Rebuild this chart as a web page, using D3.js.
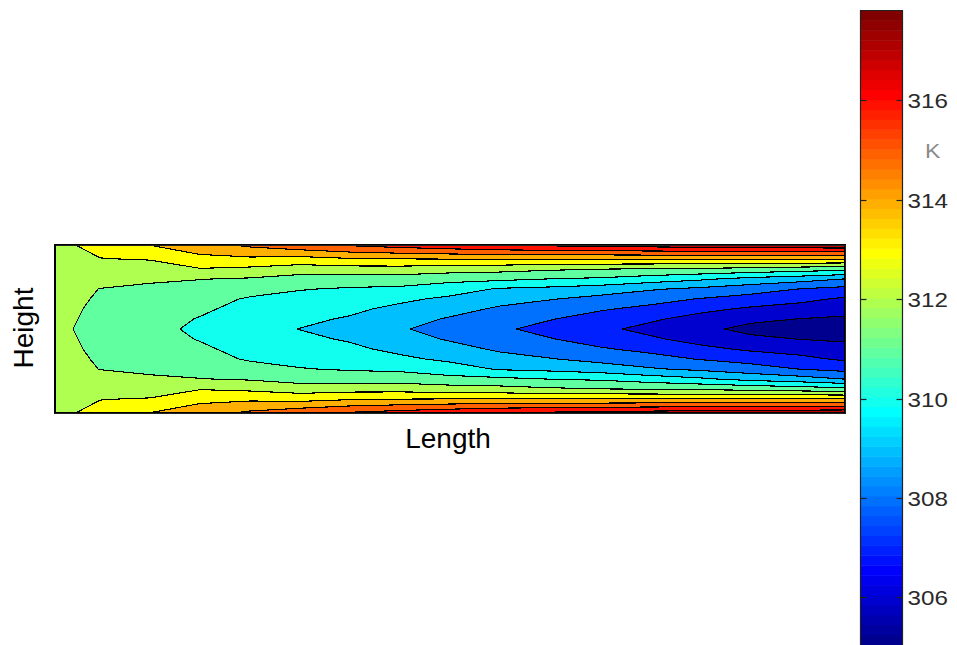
<!DOCTYPE html>
<html><head><meta charset="utf-8">
<script src="https://cdn.jsdelivr.net/npm/d3@7"></script>
<style>body{margin:0;background:#fff;overflow:hidden}svg{display:block}</style>
</head><body>
<svg id="chart" width="957" height="645"></svg>
<script>
// ---- data ----
// positions along the length (grid columns)
const lengthPos = [0, 20, 45, 95, 145, 195, 245, 295, 345, 395, 445, 495, 545, 595, 645, 695, 745, 790];
// height offsets from the centreline for the upper half (wall -> centre); lower half is the mirror image
const heightPos = [84, 70, 60, 50, 40, 30, 20, 10, 0];
// temperature [K] on each grid row (upper half, wall -> centre)
const T_h84 = [312.6, 312.99, 313.35, 314.02, 314.62, 315.2, 315.7, 316.12, 316.44, 316.75, 317.05, 317.2, 317.35, 317.47, 317.57, 317.66, 317.74, 317.81];
const T_h70 = [312.5, 312.7, 312.97, 313.05, 313.7, 313.8, 313.65, 313.9, 313.98, 314.02, 314.03, 314.02, 314.03, 314.04, 314.05, 314.1, 314.1, 314.1];
const T_h60 = [312.4, 312.5, 312.7, 312.6, 312.95, 312.8, 312.5, 312.6, 312.6, 312.45, 312.35, 312.15, 312.02, 311.95, 311.85, 311.7, 311.5, 311.3];
const T_h50 = [312.3, 312.35, 312.3, 312.15, 312.03, 311.9, 311.6, 311.55, 311.55, 311.3, 311.2, 310.98, 310.85, 310.5, 310.15, 309.7, 309.4, 308.98];
const T_h40 = [312.25, 312.25, 311.98, 311.8, 311.6, 311.35, 311.05, 310.9, 310.8, 310.45, 309.9, 309.75, 309.5, 309.1, 308.8, 308.45, 307.98, 307.7];
const T_h30 = [312.2, 312.15, 311.9, 311.6, 311.35, 310.9, 310.7, 310.5, 310.2, 309.8, 309.35, 309.05, 308.7, 308.35, 307.95, 307.6, 307.25, 306.85];
const T_h20 = [312.2, 312.08, 311.83, 311.45, 311.15, 310.7, 310.45, 310.2, 309.75, 309.35, 308.85, 308.5, 308.1, 307.75, 307.25, 306.85, 306.6, 306.35];
const T_h10 = [312.17, 312.03, 311.78, 311.35, 310.95, 310.52, 310.2, 309.9, 309.4, 308.9, 308.45, 308.05, 307.6, 307.15, 306.65, 306.2, 305.98, 305.85];
const T_h0  = [312.17, 311.98, 311.74, 311.27, 310.82, 310.40, 309.98, 309.54, 309.09, 308.63, 308.16, 307.67, 307.21, 306.73, 306.24, 305.75, 305.35, 305.05];
const upperRows = [T_h84, T_h70, T_h60, T_h50, T_h40, T_h30, T_h20, T_h10, T_h0];
// contour levels [K]
const levels = [306, 307, 308, 309, 310, 311, 312, 313, 314, 315, 316, 317];
// colour bar ticks
const cbTicks = [306, 308, 310, 312, 314, 316];
const cbUnit = "K";
const xLabel = "Length";
const yLabel = "Height";

// ---- build full grid (mirror upper half) ----
const rows = upperRows.concat(upperRows.slice(0, -1).reverse());
const heights = heightPos.concat(heightPos.slice(0, -1).reverse().map(h => -h));
const n = lengthPos.length, m = rows.length;
const values = [];
rows.forEach(r => r.forEach(v => values.push(v)));
const [cmin, cmax] = d3.extent(values);

// ---- jet colormap (64) ----
function jetMap(N) {
  const M = Math.ceil(N / 4), u = [];
  for (let i = 1; i <= M; i++) u.push(i / M);
  for (let i = 0; i < M - 1; i++) u.push(1);
  for (let i = M; i >= 1; i--) u.push(i / M);
  const g0 = Math.ceil(M / 2) - (N % 4 === 1 ? 1 : 0);
  const map = Array.from({length: N}, () => [0, 0, 0]);
  u.forEach((v, k) => {
    const gi = g0 + k + 1, ri = gi + M, bi = gi - M;
    if (gi >= 1 && gi <= N) map[gi - 1][1] = v;
    if (ri >= 1 && ri <= N) map[ri - 1][0] = v;
    if (bi >= 1 && bi <= N) map[bi - 1][2] = v;
  });
  return map.map(c => d3.rgb(c[0] * 255, c[1] * 255, c[2] * 255).formatHex());
}
const jet = jetMap(64);
const colorOf = v => jet[Math.min(63, Math.max(0, Math.floor((v - cmin) / (cmax - cmin) * 64)))];

// ---- layout ----
const svg = d3.select("#chart");
const plot = {x0: 55, x1: 845, y0: 245, y1: 413};
const xS = d3.scaleLinear().domain([lengthPos[0], lengthPos[n - 1]]).range([plot.x0, plot.x1]);
const yS = d3.scaleLinear().domain([heights[0], heights[m - 1]]).range([plot.y0, plot.y1]);

// grid coords (d3.contours, samples at i+0.5) -> pixels
const gxDom = [0], gxRng = [xS(lengthPos[0])];
lengthPos.forEach((p, i) => { gxDom.push(i + 0.5); gxRng.push(xS(p)); });
gxDom.push(n); gxRng.push(xS(lengthPos[n - 1]));
const gyDom = [0], gyRng = [yS(heights[0])];
heights.forEach((h, j) => { gyDom.push(j + 0.5); gyRng.push(yS(h)); });
gyDom.push(m); gyRng.push(yS(heights[m - 1]));
const gx = d3.scaleLinear().domain(gxDom).range(gxRng);
const gy = d3.scaleLinear().domain(gyDom).range(gyRng);

const thresholds = [cmin].concat(levels);
const contours = d3.contours().size([n, m]).thresholds(thresholds)(values);
const path = d3.geoPath();

const gPlot = svg.append("g");
contours.forEach((c, k) => {
  const geo = {
    type: "MultiPolygon",
    coordinates: c.coordinates.map(poly => poly.map(ring => ring.map(p => [gx(p[0]), gy(p[1])])))
  };
  gPlot.append("path")
    .attr("d", path(geo))
    .attr("fill", colorOf(thresholds[k]))
    .attr("stroke", "#000")
    .attr("stroke-width", 1.1)
    .attr("shape-rendering", "crispEdges");
});
// axes frame
gPlot.append("rect")
  .attr("x", plot.x0).attr("y", plot.y0)
  .attr("width", plot.x1 - plot.x0).attr("height", plot.y1 - plot.y0)
  .attr("fill", "none").attr("stroke", "#222").attr("stroke-width", 1)
  .attr("shape-rendering", "crispEdges");
gPlot.append("line")
  .attr("x1", plot.x0).attr("x2", plot.x0).attr("y1", plot.y0).attr("y2", plot.y1)
  .attr("stroke", "#000").attr("stroke-width", 2);

// axis labels
const font = "'Liberation Sans', Arial, sans-serif";
svg.append("text").text(xLabel)
  .attr("x", (plot.x0 + plot.x1) / 2 - 2).attr("y", 448)
  .attr("text-anchor", "middle").attr("font-family", font).attr("font-size", 28).attr("fill", "#000");
svg.append("text").text(yLabel)
  .attr("transform", `translate(33,${(plot.y0 + plot.y1) / 2 - 1}) rotate(-90)`)
  .attr("text-anchor", "middle").attr("font-family", font).attr("font-size", 28).attr("fill", "#000");

// ---- colour bar ----
const cb = {x0: 860.5, x1: 902.5, y0: 10.5, y1: 644.5};
const cbY = d3.scaleLinear().domain([cmin, cmax]).range([cb.y1, cb.y0]);
const gCb = svg.append("g");
const step = (cmax - cmin) / 64;
gCb.selectAll("rect.s").data(d3.range(64)).join("rect")
  .attr("x", cb.x0).attr("width", cb.x1 - cb.x0)
  .attr("y", k => cbY(cmin + (k + 1) * step))
  .attr("height", k => cbY(cmin + k * step) - cbY(cmin + (k + 1) * step) + (k === 0 ? 4 : 0.5))
  .attr("fill", k => jet[k]);
// frame runs past the bottom edge of the window, as in the reference
gCb.append("path")
  .attr("d", `M${cb.x0},${cb.y1 + 4}V${cb.y0}H${cb.x1}V${cb.y1 + 4}`)
  .attr("fill", "none").attr("stroke", "#222").attr("stroke-width", 1.2);
cbTicks.forEach(t => {
  const y = Math.round(cbY(t)) + 0.5;
  gCb.append("line").attr("x1", cb.x0).attr("x2", cb.x0 + 6).attr("y1", y).attr("y2", y)
    .attr("stroke", "#222").attr("stroke-width", 1.2);
  gCb.append("line").attr("x1", cb.x1 - 6).attr("x2", cb.x1).attr("y1", y).attr("y2", y)
    .attr("stroke", "#222").attr("stroke-width", 1.2);
  gCb.append("text").text(t)
    .attr("transform", `translate(907.5,${y + 7}) scale(1.18,1)`)
    .attr("font-family", font).attr("font-size", 20.5).attr("fill", "#2a2a2a");
});
gCb.append("text").text(cbUnit)
  .attr("transform", `translate(925,158.3) scale(1.12,1)`)
  .attr("font-family", font).attr("font-size", 20.5).attr("fill", "#8a8a8a");
</script>
</body></html>
